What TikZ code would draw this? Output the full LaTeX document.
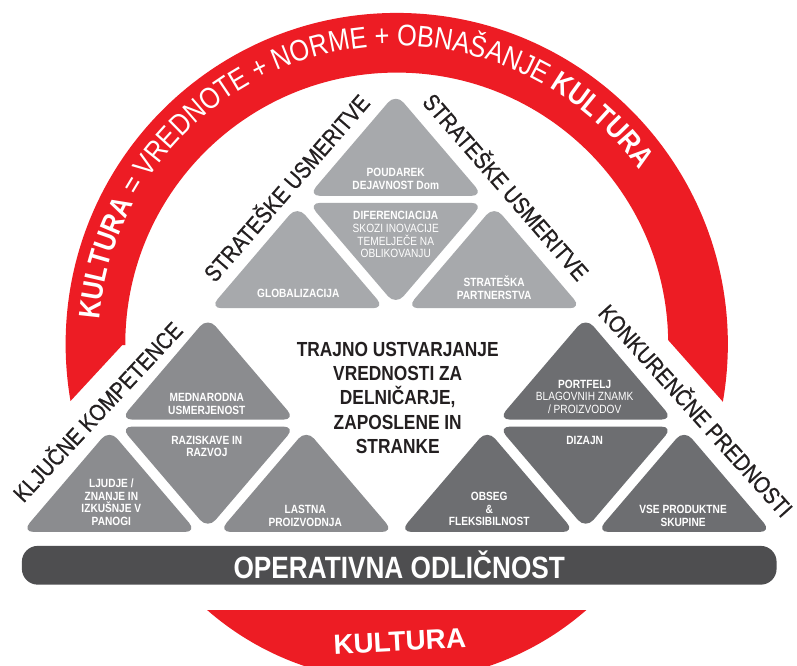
\documentclass[tikz,border=0pt]{standalone}
\usepackage{fontspec}
\setmainfont{Liberation Sans}
\newfontfamily\narrow[FakeStretch=0.85]{Liberation Sans}
\newfontfamily\sidenarrow[FakeStretch=0.85,FakeBold=0.8]{Liberation Sans}
\usetikzlibrary{decorations.text}

\definecolor{kred}{HTML}{ED1C24}
\definecolor{topgray}{HTML}{A7A9AC}
\definecolor{leftgray}{HTML}{8B8C8F}
\definecolor{rightgray}{HTML}{6D6E71}
\definecolor{bargray}{HTML}{4E4E50}
\definecolor{ink}{HTML}{231F20}

\newcommand{\ringfont}{\fontsize{30}{30}\narrow}
% rounded triangles: centre x, base (or top) y, colour
\newcommand{\uptri}[3]{\fill[#3,rounded corners=12pt] (#1-88,#2) -- (#1,#2-103) -- (#1+88,#2) -- cycle;}
\newcommand{\dntri}[3]{\fill[#3,rounded corners=12pt] (#1-88,#2) -- (#1+88,#2) -- (#1,#2+103) -- cycle;}
\newcommand{\trigroup}[3]{\uptri{#1}{#2}{#3}\dntri{#1}{#2+7}{#3}\uptri{#1-99}{#2+113}{#3}\uptri{#1+99}{#2+113}{#3}}

\begin{document}
\begin{tikzpicture}[x=1pt,y=-1pt,
  lbl/.style={text=white,font=\fontsize{12}{12.8}\narrow\bfseries,align=center,inner sep=0pt},
  side/.style={text=ink,font=\fontsize{23.5}{23.5}\sidenarrow,inner sep=0pt},
  goal/.style={text=ink,font=\fontsize{20.5}{24.5}\narrow\bfseries,align=center,inner sep=0pt},
  bar/.style={fill=bargray,rounded corners=16pt,minimum width=759pt,minimum height=39pt,
    text=white,font=\fontsize{31}{31}\narrow\bfseries,inner sep=0pt}]
% Frame
\fill[white] (0,0) rectangle (797,669);
% Red ring
\begin{scope}
\clip (0,0) -- (797,0) -- (797,483) -- (672,342) -- (123,347) -- (0,480) -- cycle;
\fill[kred,even odd rule] (399,346) circle[radius=333pt] (399,346) circle[radius=273pt];
\end{scope}
\begin{scope}
\clip (0,614) rectangle (797,669);
\fill[kred] (399,395) circle[radius=290pt];
\end{scope}
\path[decorate,decoration={text along path,text align=center,text color=white,
  text={|\ringfont\bfseries|KULTURA|\ringfont\mdseries| = VREDNOTE + NORME + OBNAŠANJE |\ringfont\bfseries|KULTURA}}]
  (399,346) ++(175:300pt) arc[start angle=175,end angle=36,radius=300pt];
% Triangles
\trigroup{398}{197}{topgray}
\trigroup{209}{422}{leftgray}
\trigroup{589}{422}{rightgray}
% Side labels
\node[side,rotate=49]  (su1) at (287,188) {STRATEŠKE USMERITVE};
\node[side,rotate=-49] (su2) at (510,187) {STRATEŠKE USMERITVE};
\node[side,rotate=47]  (kk)  at (97,413)  {KLJUČNE KOMPETENCE};
\node[side,rotate=-48] (kp)  at (701,412) {KONKURENČNE PREDNOSTI};
% Triangle labels
\node[lbl] (poud)  at (398,180) {POUDAREK\\DEJAVNOST Dom};
\node[lbl] (dif)   at (398,236) {DIFERENCIACIJA\\\mdseries SKOZI INOVACIJE\\\mdseries TEMELJEČE NA\\\mdseries OBLIKOVANJU};
\node[lbl] (glob)  at (300,295) {GLOBALIZACIJA};
\node[lbl] (part)  at (497,289) {STRATEŠKA\\PARTNERSTVA};
\node[lbl] (medn)  at (208,406) {MEDNARODNA\\USMERJENOST};
\node[lbl] (raz)   at (208,449) {RAZISKAVE IN\\RAZVOJ};
\node[lbl] (ljud)  at (112,505) {LJUDJE /\\ZNANJE IN\\IZKUŠNJE V\\PANOGI};
\node[lbl] (last)  at (307,519) {LASTNA\\PROIZVODNJA};
\node[lbl] (port)  at (588,399) {PORTFELJ\\\mdseries BLAGOVNIH ZNAMK\\\mdseries / PROIZVODOV};
\node[lbl] (diz)   at (588,443) {DIZAJN};
\node[lbl] (obs)   at (492,512) {OBSEG\\\&\\FLEKSIBILNOST};
\node[lbl] (vse)   at (687,519) {VSE PRODUKTNE\\SKUPINE};
% Centre text
\node[goal] (ustv) at (400,400) {TRAJNO USTVARJANJE\\VREDNOSTI ZA\\DELNIČARJE,\\ZAPOSLENE IN\\STRANKE};
% Base bar
\node[bar] (op) at (401.5,568.5) {OPERATIVNA ODLIČNOST};
\node[text=white,font=\fontsize{28}{28}\selectfont\bfseries,rotate=3] (kult) at (402,645) {KULTURA};
\end{tikzpicture}
\end{document}
